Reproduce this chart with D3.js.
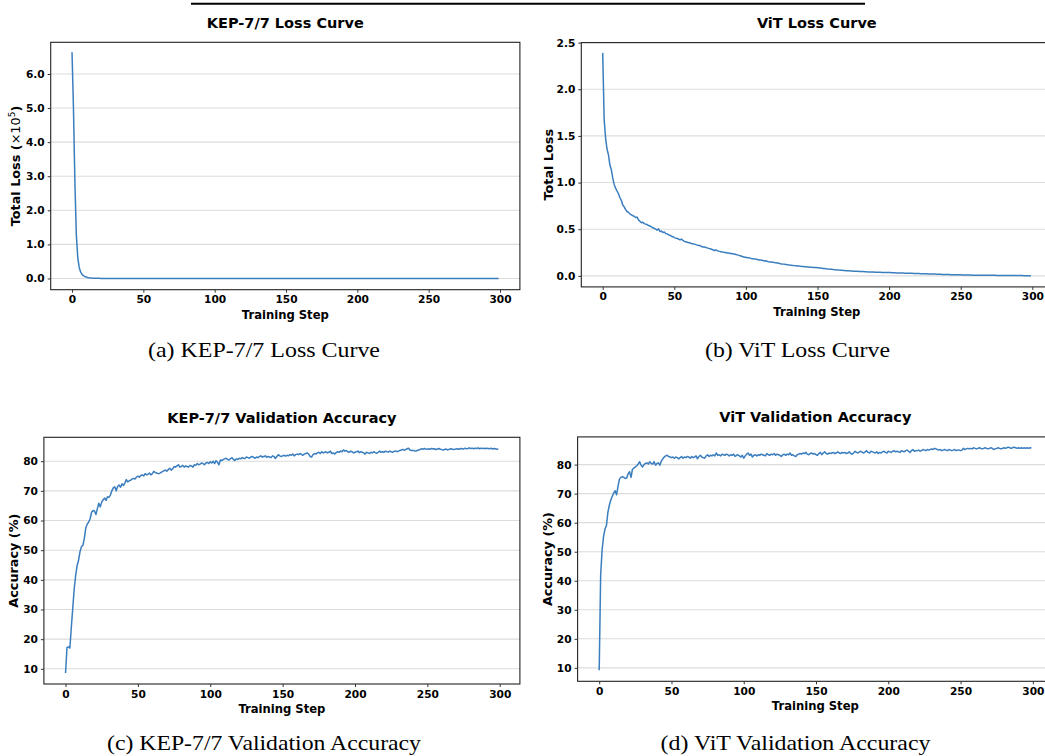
<!DOCTYPE html>
<html lang="en">
<head>
<meta charset="utf-8">
<title>KEP-7/7 vs ViT training curves</title>
<script src="https://cdn.jsdelivr.net/npm/d3@7"></script>
<style>
  body { margin: 0; background: #fff; }
  svg text { font-family: "DejaVu Sans", sans-serif; }
  .tick text { font-weight: bold; font-size: 10.6px; fill: #000; }
  .tick line { stroke: #333; }
  .caption { font-family: "Liberation Serif", "Times New Roman", serif; font-size: 22px; }
</style>
</head>
<body>
<script>
// tick labels
var stepTicks = [0, 50, 100, 150, 200, 250, 300];
var kepLossTicks = [0, 1, 2, 3, 4, 5, 6];
var vitLossTicks = [0, 0.5, 1, 1.5, 2, 2.5];
var accTicks = [10, 20, 30, 40, 50, 60, 70, 80];

// (a) KEP-7/7 loss, x1e5 (steps listed explicitly, curve is flat after ~30)
var kepLossSteps = [0, 1, 2, 3, 4, 5, 6, 7, 8, 9, 10, 11, 12, 13, 14, 15, 16, 17, 18, 19, 20, 22, 25, 30, 50, 100, 150, 200, 250, 299];
var kepLoss = [6.64, 5.0, 2.85, 1.3, 0.62, 0.33, 0.19, 0.12, 0.08, 0.055, 0.04, 0.03, 0.022, 0.016, 0.012, 0.009, 0.007, 0.005, 0.004, 0.003, 0.002, 0.001, 0.0005, 0, 0, 0, 0, 0, 0, 0];

// (b) ViT loss, one value per step 0..299
var vitLoss = [
  2.39, 1.68, 1.48, 1.36, 1.30, 1.19, 1.14, 1.05, 0.98, 0.94,
  0.91, 0.88, 0.84, 0.81, 0.76, 0.74, 0.71, 0.69, 0.68, 0.665,
  0.655, 0.645, 0.64, 0.625, 0.63, 0.60, 0.585, 0.57, 0.575, 0.56,
  0.555, 0.55, 0.54, 0.535, 0.525, 0.515, 0.51, 0.50, 0.49, 0.505,
  0.475, 0.48, 0.465, 0.47, 0.455, 0.45, 0.44, 0.435, 0.425, 0.42,
  0.41, 0.405, 0.40, 0.395, 0.385, 0.395, 0.38, 0.37, 0.365, 0.36,
  0.355, 0.355, 0.345, 0.345, 0.34, 0.335, 0.33, 0.325, 0.325, 0.315,
  0.31, 0.31, 0.305, 0.30, 0.295, 0.29, 0.285, 0.28, 0.27, 0.28,
  0.27, 0.265, 0.26, 0.26, 0.255, 0.25, 0.25, 0.245, 0.245, 0.24,
  0.24, 0.235, 0.235, 0.23, 0.225, 0.22, 0.215, 0.21, 0.205, 0.20,
  0.20, 0.195, 0.195, 0.19, 0.185, 0.185, 0.18, 0.18, 0.175, 0.17,
  0.17, 0.168, 0.165, 0.16, 0.162, 0.155, 0.152, 0.15, 0.148, 0.145,
  0.142, 0.14, 0.138, 0.135, 0.13, 0.128, 0.126, 0.124, 0.122, 0.12,
  0.118, 0.115, 0.113, 0.112, 0.11, 0.108, 0.106, 0.105, 0.103, 0.101,
  0.10, 0.098, 0.097, 0.095, 0.094, 0.093, 0.092, 0.09, 0.09, 0.089,
  0.088, 0.086, 0.084, 0.082, 0.08, 0.078, 0.076, 0.075, 0.073, 0.072,
  0.07, 0.068, 0.067, 0.065, 0.064, 0.062, 0.061, 0.06, 0.058, 0.057,
  0.056, 0.055, 0.054, 0.053, 0.052, 0.051, 0.05, 0.05, 0.049, 0.048,
  0.047, 0.046, 0.046, 0.045, 0.044, 0.043, 0.043, 0.042, 0.041, 0.041,
  0.04, 0.04, 0.039, 0.038, 0.038, 0.037, 0.037, 0.036, 0.036, 0.036,
  0.036, 0.035, 0.034, 0.034, 0.033, 0.032, 0.032, 0.031, 0.031, 0.03,
  0.03, 0.029, 0.029, 0.028, 0.028, 0.027, 0.027, 0.026, 0.026, 0.025,
  0.025, 0.025, 0.024, 0.024, 0.023, 0.022, 0.022, 0.021, 0.021, 0.02,
  0.02, 0.019, 0.019, 0.018, 0.018, 0.017, 0.017, 0.016, 0.016, 0.015,
  0.015, 0.014, 0.014, 0.013, 0.013, 0.012, 0.012, 0.012, 0.011, 0.011,
  0.011, 0.010, 0.010, 0.010, 0.009, 0.009, 0.009, 0.009, 0.008, 0.008,
  0.008, 0.008, 0.008, 0.007, 0.007, 0.007, 0.007, 0.007, 0.007, 0.007,
  0.006, 0.006, 0.006, 0.006, 0.006, 0.005, 0.005, 0.005, 0.005, 0.005,
  0.005, 0.004, 0.004, 0.004, 0.004, 0.004, 0.004, 0.003, 0.003, 0.003,
  0.003, 0.003, 0.003, 0.003, 0.002, 0.002, 0.002, 0.002, 0.002, 0.002
];

// (c) KEP-7/7 validation accuracy (%), step 0..299
var kepAcc = [
  8.6, 17.2, 17.4, 17.0, 24.0, 30.5, 37.0, 41.5, 44.8, 46.6,
  49.5, 51.2, 51.6, 54.0, 57.5, 58.8, 59.5, 60.6, 62.8, 63.4,
  63.2, 62.0, 64.0, 65.8, 64.6, 66.2, 67.0, 67.6, 66.8, 68.0,
  67.8, 68.6, 70.0, 71.0, 71.4, 70.0, 71.5, 72.0, 71.2, 72.4,
  71.8, 72.6, 73.8, 73.0, 73.4, 73.6, 74.0, 74.2, 74.0, 74.6,
  75.0, 74.6, 75.2, 75.4, 75.0, 75.8, 75.4, 75.6, 76.0, 75.4,
  75.8, 76.6, 76.2, 76.0, 75.8, 75.9, 76.2, 76.5, 76.8, 77.0,
  76.6, 77.2, 77.6, 77.0, 77.4, 78.2, 78.0, 78.4, 78.8, 78.0,
  78.2, 78.6, 78.0, 78.4, 78.2, 78.0, 78.6, 78.4, 78.0, 78.8,
  78.6, 79.2, 78.8, 79.0, 79.4, 79.2, 78.8, 79.4, 79.6, 79.2,
  79.8, 79.4, 80.0, 79.2, 80.2, 79.6, 78.8, 80.4, 80.2, 80.6,
  80.8, 81.0, 80.6, 80.4, 80.9, 81.2, 80.6, 80.2, 80.8, 80.6,
  81.0, 80.8, 81.2, 81.0, 80.9, 81.4, 81.2, 81.0, 81.4, 81.6,
  81.3, 81.0, 81.4, 81.2, 81.6, 81.8, 81.4, 81.6, 81.8, 81.3,
  81.6, 81.4, 81.2, 81.8, 81.6, 80.9, 81.6, 82.2, 81.8, 81.6,
  81.8, 82.0, 81.7, 82.0, 81.8, 82.2, 82.0, 82.4, 81.8, 82.2,
  82.4, 82.2, 82.6, 82.3, 82.0, 82.4, 82.6, 82.8, 82.4, 81.6,
  81.4, 82.2, 82.6, 82.4, 82.8, 83.0, 82.6, 83.2, 82.8, 83.0,
  83.2, 82.8, 83.0, 83.4, 82.6, 82.8, 82.4, 82.9, 83.2, 83.0,
  83.4, 83.2, 83.8, 83.4, 83.6, 83.2, 83.0, 83.4, 83.2, 82.8,
  83.0, 83.2, 83.4, 82.9, 83.2, 83.0, 82.8, 82.4, 83.0, 82.8,
  82.6, 83.0, 82.8, 83.2, 82.9, 82.7, 83.0, 83.4, 83.0, 83.2,
  83.0, 83.4, 83.2, 83.1, 83.4, 83.2, 83.0, 83.3, 83.5, 83.2,
  83.4, 83.6, 83.8, 84.0, 83.7, 83.9, 84.2, 84.4, 83.8, 83.6,
  83.6, 83.5, 83.4, 83.6, 83.8, 84.0, 84.2, 84.0, 84.3, 84.1,
  84.0, 84.2, 84.0, 84.3, 84.1, 84.2, 83.9, 84.1, 84.3, 84.0,
  83.9, 83.8, 84.0, 84.1, 83.8, 84.0, 84.2, 84.1, 83.9, 84.0,
  84.1, 84.2, 84.0, 84.3, 84.2, 84.1, 84.4, 84.2, 84.3, 84.5,
  84.3, 84.4, 84.2, 84.4, 84.3, 84.5, 84.2, 84.4, 84.3, 84.4,
  84.2, 84.4, 84.3, 84.2, 84.4, 84.1, 84.3, 84.2, 84.0, 84.1
];

// (d) ViT validation accuracy (%), step 0..299
var vitAcc = [
  9.2, 42.0, 50.6, 55.2, 57.8, 59.0, 63.5, 66.0, 67.8, 69.0,
  70.2, 71.0, 69.6, 72.5, 75.0, 75.6, 75.8, 75.6, 75.2, 75.4,
  76.8, 77.6, 75.6, 78.4, 78.8, 79.2, 79.6, 80.2, 81.0, 79.8,
  79.2, 80.0, 80.4, 80.6, 80.2, 81.0, 80.4, 80.2, 81.0, 79.8,
  80.4, 80.6, 79.8, 81.2, 82.0, 82.6, 83.0, 83.2, 82.8, 82.6,
  82.4, 82.6, 82.2, 82.6, 82.4, 82.0, 82.4, 82.8, 82.2, 82.6,
  82.4, 82.8, 82.6, 82.2, 82.8, 82.4, 82.6, 83.0, 82.0, 82.8,
  83.2, 82.6, 82.4, 82.2, 83.0, 83.4, 82.8, 83.2, 83.0, 83.4,
  83.0, 84.0, 83.2, 83.4, 83.0, 83.6, 83.4, 83.2, 83.6, 83.4,
  83.0, 83.4, 83.2, 83.6, 82.8, 83.2, 83.4, 83.0, 82.6, 83.2,
  82.2, 83.0, 83.6, 84.0, 83.2, 83.6, 82.6, 83.2, 83.4, 83.0,
  83.4, 83.2, 83.6, 83.4, 83.2, 83.0, 83.8, 83.4, 83.2, 83.6,
  83.4, 83.8, 83.2, 83.6, 83.4, 83.2, 82.8, 83.4, 83.6, 83.2,
  83.6, 83.4, 84.0, 83.2, 83.4, 83.0, 82.8, 83.4, 83.6, 83.8,
  83.6, 84.0, 83.8, 84.2, 83.6, 83.4, 83.8, 84.0, 83.6, 83.8,
  83.4, 83.2, 83.8, 84.2, 83.4, 84.0, 84.4, 83.8, 83.6, 84.0,
  83.8, 84.0, 84.2, 83.8, 84.0, 84.4, 84.0, 83.8, 84.2, 84.0,
  84.2, 83.8, 84.0, 84.4, 83.8, 83.6, 84.0, 84.6, 84.2, 84.0,
  84.4, 84.6, 84.2, 84.0, 84.4, 84.8, 84.2, 84.0, 84.6, 84.4,
  84.2, 84.0, 84.4, 83.8, 84.2, 84.0, 84.4, 84.6, 84.2, 84.0,
  84.6, 84.4, 84.2, 84.6, 84.8, 84.4, 84.6, 84.4, 84.2, 84.8,
  84.6, 84.4, 84.8, 85.0, 84.6, 84.2, 84.8, 85.2, 84.6, 84.8,
  84.8, 85.0, 84.6, 84.8, 85.2, 85.0, 84.8, 85.2, 85.0, 85.2,
  85.4, 85.2, 85.6, 85.4, 85.2, 85.0, 85.2, 84.8, 85.0, 85.2,
  85.0, 84.8, 85.2, 85.0, 84.8, 85.0, 85.2, 84.8, 85.0, 85.0,
  84.8, 85.0, 85.6, 85.2, 85.4, 85.6, 85.4, 85.6, 85.4, 85.8,
  85.6, 85.4, 85.6, 85.8, 85.6, 85.4, 85.6, 85.8, 85.6, 85.4,
  85.6, 85.8, 85.6, 85.2, 85.4, 85.6, 85.8, 85.6, 85.4, 85.6,
  85.8, 85.6, 85.8, 86.0, 85.8, 85.6, 85.8, 86.0, 85.8, 85.6,
  85.8, 85.6, 85.8, 85.6, 85.8, 85.6, 85.8, 85.6, 85.8, 85.7
];

var lineColor = "#3b7ebf";

var svg = d3.select("body").append("svg")
  .attr("width", 1045)
  .attr("height", 756);

// rule left over from the page above the figure
svg.append("line")
  .attr("x1", 191).attr("x2", 865)
  .attr("y1", 3.7).attr("y2", 3.7)
  .attr("stroke", "#000")
  .attr("stroke-width", 2);

var panels = [
  { title: "KEP-7/7 Loss Curve", caption: "(a) KEP-7/7 Loss Curve",
    steps: kepLossSteps, values: kepLoss, yTicks: kepLossTicks, fmt: d3.format(".1f"),
    yLabel: [["Total Loss (", "bold"], ["\u00d710", "normal"], ["5", "sup"], [")", "bold"]],
    left: 50.7, right: 519.9, top: 42.3, bottom: 289.7, yMin: -0.33, yMax: 6.93,
    yLabelX: 19.5, capX: 264, capY: 357, capW: 232 },
  { title: "ViT Loss Curve", caption: "(b) ViT Loss Curve",
    steps: null, values: vitLoss, yTicks: vitLossTicks, fmt: d3.format(".1f"),
    yLabel: [["Total Loss", "bold"]],
    left: 581.3, right: 1052.3, top: 42.6, bottom: 286.9, yMin: -0.118, yMax: 2.5,
    yLabelX: 553, capX: 797.5, capY: 357, capW: 185 },
  { title: "KEP-7/7 Validation Accuracy", caption: "(c) KEP-7/7 Validation Accuracy",
    steps: null, values: kepAcc, yTicks: accTicks, fmt: d3.format("d"),
    yLabel: [["Accuracy (%)", "bold"]],
    left: 43.9, right: 519.9, top: 437.3, bottom: 684, yMin: 4.88, yMax: 88.06,
    yLabelX: 18, capX: 264, capY: 750, capW: 314 },
  { title: "ViT Validation Accuracy", caption: "(d) ViT Validation Accuracy",
    steps: null, values: vitAcc, yTicks: accTicks, fmt: d3.format("d"),
    yLabel: [["Accuracy (%)", "bold"]],
    left: 577.6, right: 1053, top: 436.9, bottom: 681.3, yMin: 5.37, yMax: 89.54,
    yLabelX: 551.5, capX: 795.5, capY: 750, capW: 270 }
];

panels.forEach(function(p) {
  var g = svg.append("g");
  var pts = p.values.map(function(v, i) {
    return { s: p.steps ? p.steps[i] : i, v: v };
  });

  var x = d3.scaleLinear().domain([-14.95, 313.95]).range([p.left, p.right]);
  var y = d3.scaleLinear().domain([p.yMin, p.yMax]).range([p.bottom, p.top]);

  // horizontal grid
  g.selectAll(".grid")
    .data(p.yTicks)
    .enter()
    .append("line")
      .attr("x1", p.left).attr("x2", p.right)
      .attr("y1", function(d) { return y(d); })
      .attr("y2", function(d) { return y(d); })
      .attr("stroke", "#dcdcdc")
      .attr("stroke-width", 1.1);

  var line = d3.line()
    .x(function(d) { return x(d.s); })
    .y(function(d) { return y(d.v); });

  g.append("path")
    .datum(pts)
    .attr("d", line)
    .attr("fill", "none")
    .attr("stroke", lineColor)
    .attr("stroke-width", 1.5)
    .attr("stroke-linejoin", "round");

  // spines
  g.append("rect")
    .attr("x", p.left).attr("y", p.top)
    .attr("width", p.right - p.left).attr("height", p.bottom - p.top)
    .attr("fill", "none")
    .attr("stroke", "#222")
    .attr("stroke-width", 1.1);

  var xAxis = g.append("g")
    .attr("transform", "translate(0," + p.bottom + ")")
    .call(d3.axisBottom(x).tickValues(stepTicks).tickSize(3).tickPadding(3));
  xAxis.select(".domain").remove();

  var yAxis = g.append("g")
    .attr("transform", "translate(" + p.left + ",0)")
    .call(d3.axisLeft(y).tickValues(p.yTicks).tickFormat(p.fmt).tickSize(3).tickPadding(3));
  yAxis.select(".domain").remove();

  var cx = (p.left + p.right) / 2;

  g.append("text")
    .attr("x", cx).attr("y", p.top - 14.8)
    .attr("text-anchor", "middle")
    .attr("font-weight", "bold")
    .attr("font-size", "14.5px")
    .text(p.title);

  g.append("text")
    .attr("x", cx).attr("y", p.bottom + 28.8)
    .attr("text-anchor", "middle")
    .attr("font-weight", "bold")
    .attr("font-size", "11.6px")
    .text("Training Step");

  // y label reads a little larger in the reference
  var yl = g.append("text")
    .attr("transform", "translate(" + p.yLabelX + "," + (p.top + p.bottom) / 2 + ") rotate(-90)")
    .attr("text-anchor", "middle")
    .attr("font-size", "12.8px");
  p.yLabel.forEach(function(part, i) {
    var t = yl.append("tspan").text(part[0]);
    if (part[1] === "sup") {
      t.attr("font-size", "9px").attr("dy", "-0.45em");
    } else {
      t.attr("font-weight", part[1]);
      if (i > 0 && p.yLabel[i - 1][1] === "sup") t.attr("dy", "0.32em");
    }
  });

  svg.append("text")
    .attr("class", "caption")
    .attr("x", p.capX).attr("y", p.capY)
    .attr("text-anchor", "middle")
    .attr("textLength", p.capW)
    .attr("lengthAdjust", "spacingAndGlyphs")
    .text(p.caption);
});
</script>
</body>
</html>
